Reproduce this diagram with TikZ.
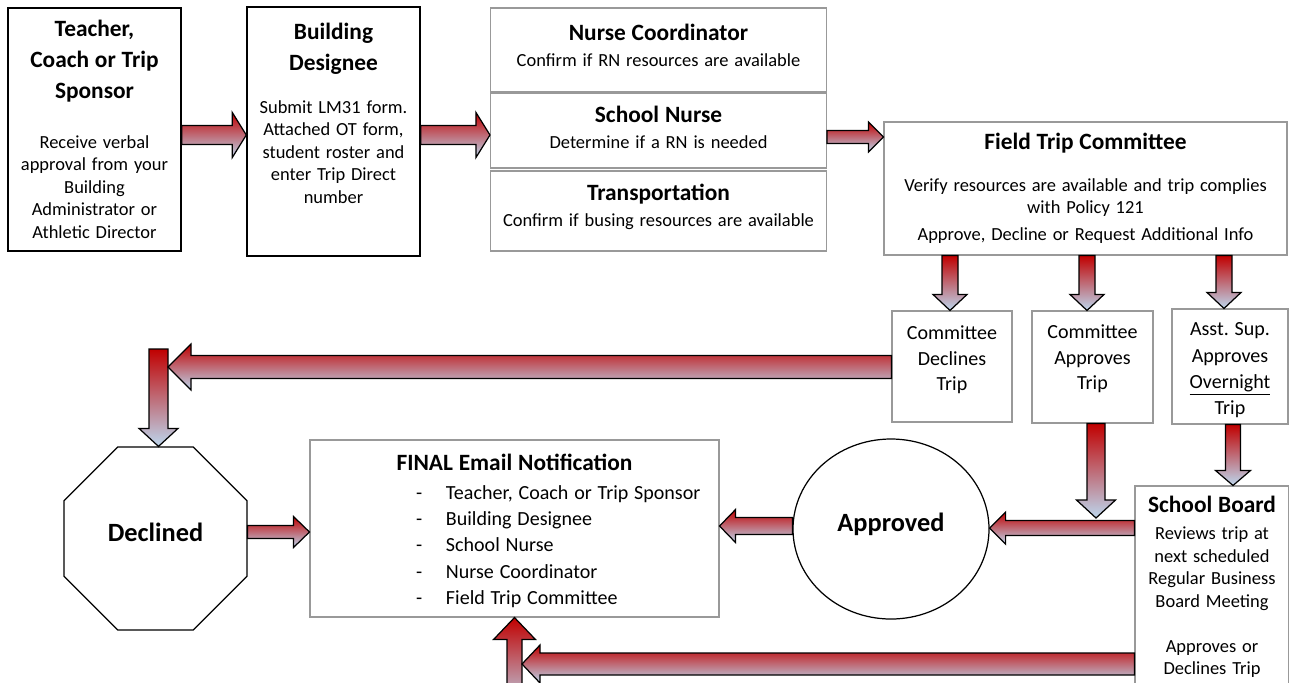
\documentclass[tikz,border=0pt]{standalone}
\usepackage{fontspec}
\setmainfont{Carlito}
\usetikzlibrary{calc,shapes.geometric}

\definecolor{arrowred}{HTML}{C00000}
\definecolor{arrowblue}{HTML}{BDD7EE}

\newcommand{\headfont}{\fontsize{13.3}{17.6}\selectfont\bfseries}
\newcommand{\bodyfont}{\normalfont\fontsize{10.5}{12.8}\selectfont}
\newcommand{\notefont}{\normalfont\fontsize{11.4}{14.5}\selectfont}
\newcommand{\recipient}[1]{\makebox[3.94cm][l]{\makebox[0.6cm][l]{-}#1}}

% block arrows: tail, tip, level, shaft half width, head half width, head length
\newcommand{\harrow}[6]{%
  \path[blockarrow] let \p1=(#1), \p2=(#2), \n1={sign(\x2-\x1)} in
    (\x1,{#3cm+#4cm}) -- ({\x2-(\n1)*(#6cm)},{#3cm+#4cm})
    -- ({\x2-(\n1)*(#6cm)},{#3cm+#5cm}) -- (\x2,#3cm)
    -- ({\x2-(\n1)*(#6cm)},{#3cm-#5cm}) -- ({\x2-(\n1)*(#6cm)},{#3cm-#4cm})
    -- (\x1,{#3cm-#4cm}) -- cycle;}
\newcommand{\varrow}[6]{%
  \path[blockarrow] let \p1=(#1), \p2=(#2), \n1={sign(\y2-\y1)} in
    ({#3cm-#4cm},\y1) -- ({#3cm-#4cm},{\y2-(\n1)*(#6cm)})
    -- ({#3cm-#5cm},{\y2-(\n1)*(#6cm)}) -- (#3cm,\y2)
    -- ({#3cm+#5cm},{\y2-(\n1)*(#6cm)}) -- ({#3cm+#4cm},{\y2-(\n1)*(#6cm)})
    -- ({#3cm+#4cm},\y1) -- cycle;}

\tikzset{
  stepbox/.style={draw=black, line width=0.8pt, inner sep=0pt, align=center},
  infobox/.style={draw=black!40, line width=0.6pt, inner sep=0pt, align=center},
  outcome/.style={draw=black, line width=0.7pt, inner sep=0pt, font=\fontsize{15}{18}\selectfont\bfseries},
  blockarrow/.style={draw=black, line width=0.7pt, line join=miter, top color=arrowred, bottom color=arrowblue}
}

\begin{document}
\begin{tikzpicture}
\useasboundingbox (0,0) rectangle (25.78,-13.64);
\clip (0,0) rectangle (25.78,-13.64);

% request row
\node[stepbox, minimum width=3.46cm, minimum height=4.86cm, text width=3.4cm] (teacher) at (1.89,-2.59)
  {\headfont Teacher,\\Coach or Trip\\Sponsor\par\vspace{15.5pt}\bodyfont Receive verbal\\approval from your\\Building\\Administrator or\\Athletic Director\par};
\node[stepbox, minimum width=3.46cm, minimum height=4.98cm, text width=3.4cm] (designee) at (6.67,-2.63)
  {\headfont Building\\Designee\par\vspace{11.5pt}\bodyfont Submit LM31 form.\\Attached OT form,\\student roster and\\enter Trip Direct\\number\par\vspace{8pt}\mbox{}\par};

\node[infobox, minimum width=6.72cm, minimum height=1.68cm, text width=6.6cm] (nursecoord) at (13.17,-1.0)
  {\headfont Nurse Coordinator\par\vspace{2pt}\bodyfont Confirm if RN resources are available\par\vspace{-8pt}\mbox{}\par};
\node[infobox, minimum width=6.72cm, minimum height=1.5cm, text width=6.6cm] (nurse) at (13.17,-2.61)
  {\headfont School Nurse\par\vspace{2pt}\bodyfont Determine if a RN is needed\par\vspace{-9pt}\mbox{}\par};
\node[infobox, minimum width=6.72cm, minimum height=1.6cm, text width=6.6cm] (transport) at (13.17,-4.22)
  {\headfont Transportation\par\vspace{2pt}\bodyfont Confirm if busing resources are available\par\vspace{-6pt}\mbox{}\par};

\node[infobox, minimum width=8.06cm, minimum height=2.66cm, text width=8cm] (committee) at (21.71,-3.77)
  {\headfont Field Trip Committee\par\vspace{11pt}\bodyfont Verify resources are available and trip complies\\with Policy 121\par\vspace{2.6pt}Approve, Decline or Request Additional Info\par};

% decisions
\node[infobox, minimum width=2.4cm, minimum height=2.22cm, text width=2.3cm] (declines) at (19.04,-7.33)
  {\notefont Committee\\Declines\\Trip\par\vspace{-5pt}\mbox{}\par};
\node[infobox, minimum width=2.42cm, minimum height=2.24cm, text width=2.3cm] (approves) at (21.85,-7.34)
  {\notefont Committee\\Approves\\Trip\par\vspace{-3.5pt}\mbox{}\par};
\node[infobox, minimum width=2.32cm, minimum height=2.3cm, text width=2.3cm] (overnight) at (24.6,-7.33)
  {\notefont\fontsize{11.4}{15}\selectfont\mbox{}\par\vspace{-3pt}Asst.\ Sup.\\Approves\\\smash{\underline{Overnight}}\\Trip\par};
\node[infobox, minimum width=3.08cm, minimum height=4.04cm, text width=3cm] (board) at (24.24,-11.74)
  {\headfont School Board\par\vspace{2.6pt}\bodyfont Reviews trip at\\next scheduled\\Regular Business\\Board Meeting\\~\\Approves or\\Declines Trip\par};

% outcomes
\node[outcome, regular polygon, regular polygon sides=8, minimum size=3.96cm] (declined) at (3.11,-10.77)
  {\raisebox{-1.7pt}[0pt][0pt]{Declined}};
\node[outcome, ellipse, minimum width=3.92cm, minimum height=3.6cm] (approved) at (17.82,-10.58)
  {\raisebox{-1.5pt}[0pt][0pt]{Approved}};
\node[infobox, minimum width=8.18cm, minimum height=3.54cm, text width=8.1cm] (final) at (10.29,-10.57)
  {\headfont\mbox{}\par\vspace{-5.6pt}FINAL Email Notification\par\vspace{1.5pt}\notefont\fontsize{11.4}{15}\selectfont
   \recipient{Teacher, Coach or Trip Sponsor}\\\recipient{Building Designee}\\\recipient{School Nurse}\\\recipient{Nurse Coordinator}\\\recipient{Field Trip Committee}\par};

\coordinate (turn) at (3.17,-6.98);
\coordinate (merge) at (21.92,-10.36);
\coordinate (boardback) at (10.29,-14.2);

\harrow{teacher.east}{designee.west}{-2.7}{0.19}{0.45}{0.28}
\harrow{designee.east}{nurse.west}{-2.7}{0.19}{0.45}{0.28}
\harrow{nurse.east}{committee.west}{-2.74}{0.13}{0.3}{0.3}
\varrow{committee.south}{declines.north}{19.0}{0.16}{0.34}{0.32}
\varrow{committee.south}{approves.north}{21.74}{0.16}{0.34}{0.32}
\varrow{committee.south}{overnight.north}{24.48}{0.16}{0.34}{0.32}
\varrow{turn}{declined.north}{3.17}{0.19}{0.39}{0.36}
\harrow{declines.west}{[xshift=0.19cm]turn}{-7.34}{0.23}{0.46}{0.46}
\harrow{declined.east}{final.west}{-10.64}{0.13}{0.31}{0.32}
\harrow{approved.west}{final.east}{-10.52}{0.17}{0.33}{0.32}
\harrow{board.west}{approved.east}{-10.56}{0.15}{0.32}{0.32}
\varrow{approves.south}{merge}{21.92}{0.18}{0.39}{0.36}
\varrow{overnight.south}{board.north}{24.66}{0.15}{0.35}{0.3}
\varrow{boardback}{final.south}{10.29}{0.15}{0.42}{0.44}
\harrow{board.west}{[xshift=0.15cm]boardback}{-13.28}{0.22}{0.38}{0.36}
\end{tikzpicture}
\end{document}
